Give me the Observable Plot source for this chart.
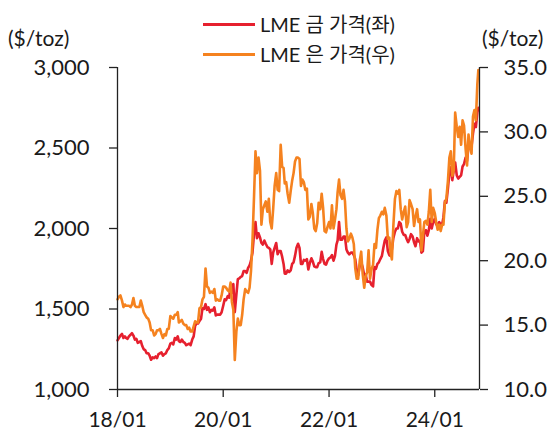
<!DOCTYPE html>
<html>
<head>
<meta charset="utf-8">
<script src="https://cdn.jsdelivr.net/npm/d3@7"></script>
<script src="https://cdn.jsdelivr.net/npm/@observablehq/plot@0.6"></script>
<style>
  html, body { margin: 0; padding: 0; background: #fff; }
  #wrap { position: relative; width: 555px; height: 435px; font-family: Lato, "Noto Sans CJK KR", sans-serif; color: #1a1a1a; }
  .unit { position: absolute; font-size: 21px; line-height: 1; white-space: nowrap; }
  .leg { position: absolute; left: 203px; width: 52px; height: 3px; }
  .legt { position: absolute; left: 260px; font-size: 20px; line-height: 1; white-space: nowrap; }
</style>
</head>
<body>
<div id="wrap"></div>
<script>
// Sampling grid: days 1, 11, 21 of each month, Jan 2018 - Oct 2024, plus a final point
const years = [2018, 2019, 2020, 2021, 2022, 2023, 2024];
const sampleDays = [1, 11, 21];
const lastDate = "2024-10-28";

// LME gold ($/toz), left axis
const gold2018 = [1305,1320,1335, 1345,1320,1330, 1320,1315,1330, 1340,1350,1335, 1310,1315,1290, 1295,1300,1270, 1250,1245,1225, 1225,1210,1185, 1200,1195,1205, 1195,1220,1225, 1230,1210,1220, 1225,1245,1255];
const gold2019 = [1285,1290,1280, 1320,1310,1330, 1300,1295,1310, 1295,1290,1275, 1280,1285,1275, 1310,1330,1395, 1410,1410,1425, 1440,1505,1500, 1530,1495,1510, 1480,1495,1490, 1510,1460,1465, 1465,1465,1480];
const gold2020 = [1520,1560,1555, 1580,1570,1640, 1600,1655,1480, 1590,1685,1690, 1700,1705,1735, 1735,1725,1755, 1770,1800,1850, 1970,2040,1940, 1970,1945,1910, 1900,1925,1905, 1885,1880,1870, 1780,1850,1880];
const gold2021 = [1910,1840,1860, 1860,1825,1780, 1720,1720,1740, 1730,1740,1780, 1790,1830,1880, 1905,1880,1780, 1780,1805,1800, 1810,1745,1785, 1815,1795,1765, 1760,1760,1785, 1790,1855,1810, 1780,1775,1800];
const gold2022 = [1815,1820,1835, 1800,1830,1900, 1925,2040,1930, 1930,1950,1950, 1870,1850,1840, 1850,1850,1835, 1810,1740,1710, 1770,1790,1760, 1710,1715,1670, 1670,1670,1650, 1640,1760,1750, 1780,1790,1810];
const gold2023 = [1830,1880,1925, 1945,1860,1835, 1830,1870,1940, 1980,2000,2000, 2040,2030,1980, 1960,1960,1935, 1915,1935,1965, 1950,1915,1890, 1940,1920,1925, 1850,1860,1980, 1990,1955,1990, 2060,2000,2040];
const gold2024 = [2060,2025,2025, 2040,2025,2025, 2070,2170,2160, 2250,2350,2380, 2300,2360,2410, 2330,2310,2320, 2330,2385,2400, 2440,2420,2510, 2500,2510,2590, 2650,2630,2720, 2750];

// LME silver ($/toz), right axis
const silver2018 = [17.0,17.2,17.3, 16.9,16.4,16.6, 16.5,16.5,16.5, 16.4,16.6,17.1, 16.5,16.4,16.4, 16.4,16.9,16.5, 16.0,15.8,15.6, 15.5,15.2,14.6, 14.6,14.2,14.3, 14.6,14.6,14.7, 14.3,14.0,14.3, 14.2,14.7,14.7];
const silver2019 = [15.7,15.6,15.5, 15.8,15.8,16.0, 15.2,15.3,15.4, 15.1,15.0,15.0, 14.7,14.8,14.5, 14.5,14.9,15.3, 15.2,15.2,16.3, 16.4,17.0,17.2, 19.4,18.0,17.9, 17.5,17.6,17.5, 17.8,16.9,17.0, 16.9,16.9,17.3];
const silver2020 = [18.0,18.0,17.9, 17.7,17.6,18.3, 16.8,16.2,12.3, 14.5,15.5,15.0, 15.0,15.8,17.0, 17.8,17.6,17.5, 17.9,19.2,21.5, 25.0,28.5,26.8, 28.0,27.0,22.8, 24.0,24.3,24.6, 23.8,24.8,23.0, 22.5,24.0,25.8];
const silver2021 = [26.8,25.5,25.4, 29.0,27.3,27.2, 26.0,26.1,25.2, 24.5,25.4,26.2, 26.8,27.7,28.0, 28.0,27.9,25.8, 26.3,26.1,25.5, 25.6,23.2,23.4, 24.4,23.7,22.5, 22.3,22.9,24.5, 24.0,25.2,24.1, 22.3,22.2,22.6];
const silver2022 = [23.0,22.5,24.3, 22.5,23.2,24.0, 25.3,26.3,25.1, 24.8,25.5,24.6, 22.5,21.5,21.7, 22.1,21.8,21.3, 19.4,18.6,18.6, 20.0,20.7,19.0, 17.9,18.8,19.1, 20.8,18.6,19.3, 19.7,21.3,21.0, 22.4,23.3,23.5];
const silver2023 = [23.8,23.6,24.1, 23.5,21.7,21.8, 20.7,20.1,22.7, 24.8,25.4,25.2, 25.5,24.0,23.2, 23.8,24.2,22.6, 23.0,24.7,24.4, 24.0,22.7,23.4, 24.0,23.0,23.2, 20.8,21.9,23.0, 23.1,22.8,23.8, 25.5,23.0,24.1];
const silver2024 = [23.7,23.0,22.4, 22.8,22.3,22.8, 22.8,24.5,24.8, 26.2,28.0,28.5, 26.6,27.0,31.5, 30.4,29.6,30.4, 29.0,30.9,30.5, 28.7,27.4,29.8, 28.8,28.3,31.2, 31.7,30.9,33.7, 34.8];

// Axis ticks and labels
const goldTicks = [1000, 1500, 2000, 2500, 3000];
const silverTicks = [10, 15, 20, 25, 30, 35];
const xTicks = ["2018-01-01", "2020-01-01", "2022-01-01", "2024-01-01"];
const xDomain = ["2018-01-01", "2024-11-05"];
const unitLabel = "($/toz)";
const seriesNames = ["LME 금 가격(좌)", "LME 은 가격(우)"];
const colors = ["#e6202e", "#f5821f"];

// Build table
const goldAll = [].concat(gold2018, gold2019, gold2020, gold2021, gold2022, gold2023, gold2024);
const silverAll = [].concat(silver2018, silver2019, silver2020, silver2021, silver2022, silver2023, silver2024);
const dates = [];
for (const y of years) for (let m = 0; m < 12; m++) for (const d of sampleDays) dates.push(new Date(Date.UTC(y, m, d)));
const n = goldAll.length;
const dateList = dates.slice(0, n - 1).concat([new Date(lastDate)]);
const rows = dateList.map((date, i) => ({date, gold: goldAll[i], silver: silverAll[i]}));

// map silver onto the gold scale for the dual axis
const s2g = s => 1000 + (s - 10) * 80;
const g2s = g => (g - 1000) / 80 + 10;

const axisColor = "#222";
const chart = Plot.plot({
  width: 555,
  height: 435,
  marginLeft: 117,
  marginRight: 76,
  marginTop: 67,
  marginBottom: 46,
  style: {fontFamily: 'Lato, "Noto Sans CJK KR", sans-serif', fontSize: "22px", color: "#1a1a1a", background: "transparent", overflow: "visible"},
  x: {type: "utc", domain: xDomain.map(d => new Date(d)), label: null},
  y: {domain: [1000, 3000], label: null},
  marks: [
    Plot.lineY(rows, {x: "date", y: "gold", stroke: colors[0], strokeWidth: 2.6, strokeLinejoin: "round"}),
    Plot.lineY(rows, {x: "date", y: d => s2g(d.silver), stroke: colors[1], strokeWidth: 2.6, strokeLinejoin: "round"}),
    Plot.ruleX([new Date(xDomain[0]), new Date(xDomain[1])], {stroke: axisColor, strokeWidth: 1.3}),
    Plot.ruleY([1000], {stroke: axisColor, strokeWidth: 1.3}),
    Plot.axisY({ticks: goldTicks, tickFormat: d3.format(","), anchor: "left", tickSize: 8, tickPadding: 20, stroke: axisColor, strokeWidth: 1.3, fontSize: 22, label: null}),
    Plot.axisY({ticks: silverTicks.map(s2g), tickFormat: d => g2s(d).toFixed(1), anchor: "right", tickSize: 8, tickPadding: 16, stroke: axisColor, strokeWidth: 1.3, fontSize: 22, label: null}),
    Plot.axisX({ticks: xTicks.map(d => new Date(d)), tickFormat: d3.utcFormat("%y/%m"), tickSize: 8, tickPadding: 15, stroke: axisColor, strokeWidth: 1.3, fontSize: 21, label: null})
  ]
});

const wrap = document.getElementById("wrap");
wrap.appendChild(chart);
chart.style.position = "absolute";
chart.style.left = "0";
chart.style.top = "0";

function addDiv(cls, text, css) {
  const el = document.createElement("div");
  el.className = cls;
  if (text) el.textContent = text;
  Object.assign(el.style, css);
  wrap.appendChild(el);
  return el;
}
addDiv("unit", unitLabel, {left: "8px", top: "27px"});
addDiv("unit", unitLabel, {left: "482px", top: "27px"});
addDiv("leg", "", {top: "23px", background: colors[0]});
addDiv("leg", "", {top: "53px", background: colors[1]});
addDiv("legt", seriesNames[0], {top: "14px"});
addDiv("legt", seriesNames[1], {top: "44px"});
</script>
</body>
</html>
